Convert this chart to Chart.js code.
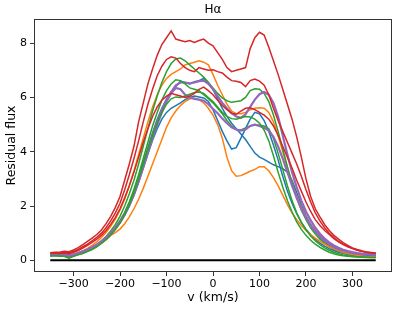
<!DOCTYPE html>
<html>
<head>
<meta charset="utf-8">
<script src="https://cdn.jsdelivr.net/npm/chart.js@4"></script>
<style>
  html, body { margin: 0; padding: 0; background: #fff; }
  #wrap { width: 398px; height: 310px; position: relative; }
</style>
</head>
<body>
<div id="wrap"><canvas id="halpha"></canvas></div>
<script>
// velocity grid (km/s), one sample every 10 km/s
const velocity = [-350,-340,-330,-320,-310,-300,-290,-280,-270,-260,-250,-240,-230,-220,-210,-200,-190,-180,-170,-160,-150,-140,-130,-120,-110,-100,-90,-80,-70,-60,-50,-40,-30,-20,-10,0,10,20,30,40,50,60,70,80,90,100,110,120,130,140,150,160,170,180,190,200,210,220,230,240,250,260,270,280,290,300,310,320,330,340,350];

const blueA = [0.2,0.22,0.2,0.2,0.15,0.2,0.25,0.31,0.38,0.47,0.57,0.69,0.83,1.0,1.2,1.45,1.75,2.12,2.55,3.05,3.6,4.15,4.7,5.2,5.6,5.95,6.2,6.4,6.6,6.55,6.5,6.58,6.62,6.7,6.55,6.3,5.95,5.6,5.3,5.05,4.85,4.65,4.45,4.2,3.95,3.8,3.72,3.62,3.52,3.45,3.38,3.25,2.95,2.5,2.05,1.65,1.32,1.05,0.85,0.68,0.55,0.45,0.37,0.31,0.27,0.24,0.22,0.2,0.19,0.18,0.18];
const blueB = [0.19,0.21,0.19,0.18,0.13,0.19,0.24,0.3,0.37,0.45,0.55,0.66,0.8,0.96,1.15,1.38,1.66,2.0,2.4,2.88,3.4,3.92,4.42,4.85,5.2,5.45,5.6,5.7,5.8,5.92,6.0,6.05,6.02,5.98,5.85,5.55,5.15,4.75,4.4,4.1,4.15,4.5,4.85,5.2,5.45,5.4,5.15,4.75,4.25,3.7,3.1,2.55,2.1,1.72,1.4,1.15,0.94,0.77,0.63,0.52,0.43,0.36,0.3,0.26,0.23,0.21,0.2,0.19,0.18,0.17,0.17];
const orangeA = [0.2,0.22,0.2,0.22,0.15,0.22,0.28,0.35,0.44,0.55,0.68,0.84,1.02,1.25,1.52,1.85,2.25,2.75,3.3,3.9,4.5,5.1,5.65,6.1,6.45,6.7,6.85,6.95,7.05,7.2,7.25,7.3,7.35,7.3,7.2,6.85,6.45,6.1,5.75,5.5,5.4,5.4,5.45,5.55,5.6,5.62,5.6,5.45,5.1,4.6,4.0,3.4,2.85,2.35,1.95,1.6,1.32,1.1,0.92,0.77,0.64,0.53,0.44,0.37,0.31,0.26,0.22,0.2,0.18,0.17,0.16];
const orangeB = [0.18,0.2,0.18,0.17,0.1,0.17,0.22,0.28,0.35,0.43,0.52,0.63,0.76,0.92,1.02,1.15,1.35,1.6,1.9,2.25,2.65,3.1,3.55,4.0,4.45,4.9,5.25,5.5,5.7,5.85,5.95,5.98,5.92,5.8,5.6,5.35,5.0,4.5,3.8,3.3,3.1,3.12,3.2,3.28,3.35,3.45,3.45,3.3,3.05,2.75,2.4,2.05,1.75,1.5,1.28,1.1,0.95,0.82,0.7,0.6,0.5,0.42,0.35,0.29,0.25,0.21,0.18,0.16,0.14,0.13,0.13];
const greenA = [0.18,0.2,0.18,0.17,0.12,0.18,0.24,0.3,0.38,0.47,0.58,0.72,0.88,1.08,1.32,1.62,2.0,2.45,2.95,3.55,4.2,4.85,5.5,6.05,6.55,6.95,7.25,7.42,7.45,7.35,7.2,7.05,6.9,6.75,6.55,6.35,6.15,5.98,5.88,5.82,5.85,5.88,6.0,6.25,6.32,6.3,6.15,5.85,5.35,4.75,4.1,3.45,2.85,2.3,1.85,1.5,1.2,0.97,0.78,0.63,0.5,0.4,0.32,0.26,0.21,0.18,0.15,0.13,0.12,0.11,0.11];
const greenB = [0.17,0.19,0.17,0.16,0.1,0.16,0.21,0.27,0.34,0.42,0.52,0.64,0.78,0.95,1.16,1.42,1.75,2.15,2.62,3.15,3.75,4.35,4.95,5.45,5.9,6.25,6.5,6.65,6.62,6.5,6.35,6.3,6.25,6.1,5.95,5.8,5.6,5.4,5.15,4.95,4.82,4.8,4.88,4.95,5.0,4.98,4.95,4.85,4.5,3.95,3.35,2.75,2.2,1.75,1.4,1.12,0.9,0.72,0.58,0.46,0.37,0.3,0.24,0.2,0.17,0.15,0.13,0.12,0.11,0.1,0.1];
const greenC = [0.15,0.17,0.15,0.15,0.08,0.15,0.2,0.25,0.32,0.4,0.5,0.62,0.76,0.93,1.13,1.38,1.68,2.05,2.5,3.0,3.55,4.1,4.6,5.05,5.45,5.75,5.95,6.02,6.0,6.05,6.12,6.18,6.2,6.15,6.0,5.85,5.65,5.45,5.3,5.22,5.2,5.25,5.3,5.28,5.2,5.05,4.8,4.4,3.85,3.25,2.7,2.2,1.78,1.42,1.14,0.92,0.74,0.6,0.48,0.38,0.3,0.24,0.2,0.17,0.15,0.13,0.12,0.11,0.1,0.1,0.1];
const redA = [0.28,0.3,0.3,0.33,0.32,0.38,0.47,0.58,0.7,0.82,0.95,1.12,1.35,1.62,1.95,2.35,2.95,3.55,4.2,5.1,5.8,6.5,7.05,7.55,7.95,8.2,8.45,8.15,8.1,8.05,8.1,8.03,8.1,8.15,8.0,7.9,7.65,7.4,7.1,6.95,7.0,7.05,7.1,7.8,8.2,8.4,8.3,7.85,7.35,6.85,6.3,5.75,5.2,4.55,3.8,3.0,2.35,1.9,1.6,1.32,1.1,0.92,0.78,0.65,0.55,0.46,0.4,0.35,0.31,0.29,0.27];
const redB = [0.25,0.28,0.27,0.3,0.28,0.33,0.4,0.5,0.6,0.72,0.85,1.0,1.2,1.45,1.75,2.1,2.6,3.15,3.75,4.4,5.1,5.75,6.3,6.8,7.15,7.4,7.5,7.45,7.25,7.1,7.0,6.95,7.1,7.05,7.0,7.02,6.95,6.9,6.75,6.62,6.6,6.55,6.4,6.62,6.68,6.6,6.45,6.1,5.6,5.15,4.75,4.35,3.95,3.55,3.1,2.6,2.15,1.75,1.45,1.2,1.0,0.84,0.7,0.6,0.51,0.44,0.38,0.33,0.3,0.27,0.25];
const redC = [0.25,0.27,0.25,0.27,0.24,0.3,0.36,0.45,0.55,0.66,0.78,0.92,1.1,1.32,1.58,1.9,2.3,2.75,3.25,3.8,4.35,4.85,5.3,5.65,5.9,6.05,6.15,6.1,6.05,6.0,6.05,6.15,6.3,6.38,6.25,6.1,5.9,5.7,5.55,5.42,5.38,5.5,5.6,5.62,5.55,5.45,5.35,5.2,4.95,4.6,4.2,3.8,3.4,2.95,2.55,2.15,1.8,1.5,1.28,1.1,0.95,0.8,0.68,0.58,0.5,0.43,0.37,0.33,0.3,0.28,0.26];
const purpleA = [0.22,0.24,0.22,0.22,0.18,0.22,0.27,0.33,0.4,0.48,0.58,0.7,0.84,1.0,1.2,1.44,1.73,2.08,2.5,2.98,3.5,4.05,4.6,5.1,5.55,5.9,6.2,6.45,6.55,6.55,6.52,6.55,6.6,6.62,6.5,6.3,6.05,5.8,5.6,5.42,5.3,5.25,5.38,5.65,5.92,6.12,6.2,6.1,5.8,5.3,4.6,3.9,3.25,2.7,2.2,1.8,1.48,1.2,0.98,0.8,0.66,0.55,0.46,0.39,0.34,0.3,0.27,0.25,0.24,0.23,0.22];
const purpleB = [0.21,0.23,0.21,0.21,0.17,0.21,0.26,0.32,0.39,0.47,0.57,0.68,0.82,0.98,1.17,1.4,1.68,2.02,2.42,2.9,3.42,3.98,4.5,5.0,5.45,5.85,6.15,6.35,6.3,6.1,6.0,5.95,5.92,5.88,5.75,5.58,5.42,5.22,5.05,4.9,4.82,4.78,4.82,4.95,5.0,4.95,4.88,4.78,4.55,4.2,3.75,3.25,2.75,2.3,1.9,1.57,1.3,1.07,0.88,0.72,0.6,0.5,0.42,0.36,0.31,0.27,0.25,0.23,0.22,0.21,0.2];

const xTicks = [-300, -200, -100, 0, 100, 200, 300];
const yTicks = [0, 2, 4, 6, 8];

const C0 = '#1f77b4', C1 = '#ff7f0e', C2 = '#2ca02c', C3 = '#d62728', C4 = '#9467bd';

// matplotlib plotting order (last one ends up on top)
const series = [
  [blueA, C0, 1.5], [orangeA, C1, 1.5], [greenA, C2, 1.5], [redA, C3, 1.5], [purpleA, C4, 2.2],
  [blueB, C0, 1.5], [orangeB, C1, 1.5], [greenB, C2, 1.5], [redB, C3, 1.5], [purpleB, C4, 2.2],
  [greenC, C2, 1.5], [redC, C3, 1.5],
];

function toPoints(arr) {
  return velocity.map((v, i) => ({ x: v, y: arr[i] }));
}

let datasets = series.map(s => ({
  data: toPoints(s[0]),
  borderColor: s[1],
  borderWidth: s[2],
  pointRadius: 0,
  tension: 0,
  fill: false,
}));
datasets.push({
  data: [{ x: velocity[0], y: 0 }, { x: velocity[velocity.length - 1], y: 0 }],
  borderColor: '#000',
  borderWidth: 2,
  pointRadius: 0,
  fill: false,
});
// chart.js paints dataset 0 last, so flip to keep the matplotlib stacking
datasets = datasets.reverse();

const font = 'DejaVu Sans';
const minus = v => String(v).replace('-', '\u2212');

const frameAndText = {
  id: 'frameAndText',
  afterDraw(chart) {
    const { ctx, chartArea: a } = chart;
    ctx.save();
    ctx.strokeStyle = '#333';
    ctx.lineWidth = 1;
    ctx.strokeRect(a.left + 0.5, a.top + 0.5, a.right - a.left - 1, a.bottom - a.top - 1);
    ctx.fillStyle = '#000';
    ctx.textAlign = 'center';
    ctx.textBaseline = 'alphabetic';
    ctx.font = '12px "' + font + '"';
    ctx.fillText('H\u03b1', (a.left + a.right) / 2, 13);
    ctx.font = '12.5px "' + font + '"';
    ctx.fillText('v (km/s)', (a.left + a.right) / 2, 301);
    ctx.translate(15, (a.top + a.bottom) / 2);
    ctx.rotate(-Math.PI / 2);
    ctx.fillText('Residual flux', 0, 0);
    ctx.restore();
  }
};

new Chart(document.getElementById('halpha'), {
  type: 'line',
  data: { datasets: datasets },
  options: {
    responsive: true,
    maintainAspectRatio: false,
    animation: false,
    layout: { padding: { top: 19, right: 6, left: 0, bottom: 0 } },
    plugins: { legend: { display: false }, tooltip: { enabled: false }, title: { display: false } },
    scales: {
      x: {
        type: 'linear',
        min: -385,
        max: 385,
        afterBuildTicks: s => { s.ticks = xTicks.map(v => ({ value: v })); },
        afterFit: s => { s.height = 38; },
        grid: { drawOnChartArea: false, drawTicks: true, tickLength: 4, tickColor: '#333' },
        border: { display: false },
        ticks: { color: '#000', font: { family: font, size: 11 }, padding: 2, maxRotation: 0, callback: v => minus(v) },
      },
      y: {
        type: 'linear',
        min: -0.43,
        max: 8.89,
        afterBuildTicks: s => { s.ticks = yTicks.map(v => ({ value: v })); },
        afterFit: s => { s.width = 34; },
        grid: { drawOnChartArea: false, drawTicks: true, tickLength: 4, tickColor: '#333' },
        border: { display: false },
        ticks: { color: '#000', font: { family: font, size: 11 }, padding: 3, callback: v => minus(v) },
      },
    },
  },
  plugins: [frameAndText],
});
</script>
</body>
</html>
